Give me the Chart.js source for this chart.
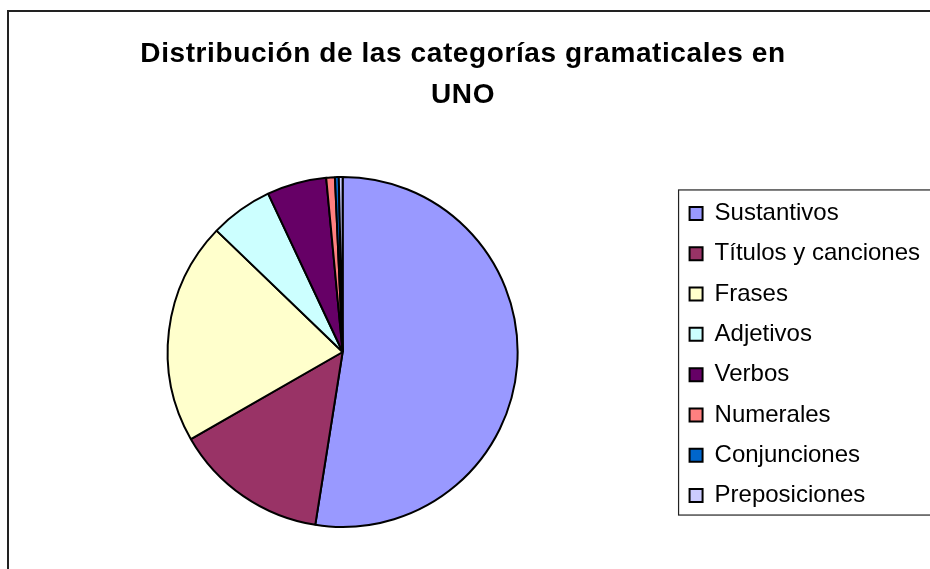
<!DOCTYPE html>
<html>
<head>
<meta charset="utf-8">
<script src="https://cdn.jsdelivr.net/npm/chart.js@4/dist/chart.umd.min.js"></script>
<style>
  html, body { margin: 0; padding: 0; background: #fff; }
  canvas { display: block; }
</style>
</head>
<body>
<canvas id="pieChart" width="930" height="569"></canvas>
<script>
// data (percent of words)
const categorias = ['Sustantivos', 'Títulos y canciones', 'Frases', 'Adjetivos', 'Verbos', 'Numerales', 'Conjunciones', 'Preposiciones'];
const porcentajes = [52.5, 14.2, 20.5, 5.8, 5.5, 0.8, 0.35, 0.35];
const colores = ['#9999FF', '#993366', '#FFFFCC', '#CCFFFF', '#660066', '#FF8080', '#0066CC', '#CCCCFF'];
const titulo = ['Distribución de las categorías gramaticales en', 'UNO'];

const FONT = '"Liberation Sans", Arial, sans-serif';

// white background, the outer chart frame and the box round the legend
const frame = {
  id: 'frame',
  afterInit(chart) {
    // the title in the picture is a bit spaced out and sits a little left of centre
    const title = chart.titleBlock;
    if (title && !title._spaced) {
      const draw = title.draw.bind(title);
      title.draw = (area) => {
        chart.ctx.save();
        chart.ctx.letterSpacing = '0.6px';
        chart.ctx.translate(-8, 0);
        draw(area);
        chart.ctx.restore();
      };
      title._spaced = true;
    }
  },
  beforeDraw(chart) {
    const ctx = chart.ctx;
    ctx.save();
    ctx.fillStyle = '#fff';
    ctx.fillRect(0, 0, chart.width, chart.height);
    ctx.strokeStyle = '#222';
    ctx.lineWidth = 2;
    ctx.strokeRect(8, 11, chart.width + 20, chart.height + 20);
    ctx.restore();
  },
  afterDraw(chart) {
    const boxes = chart.legend.legendHitBoxes;
    if (!boxes || !boxes.length) return;
    const first = boxes[0];
    const last = boxes[boxes.length - 1];
    const ctx = chart.ctx;
    ctx.save();
    ctx.strokeStyle = '#222';
    ctx.lineWidth = 1.2;
    const x = first.left - 11;
    const y = first.top - 11.5;
    ctx.strokeRect(x, y, chart.width, last.top + last.height + 7.5 - y);
    ctx.restore();
  }
};

new Chart(document.getElementById('pieChart'), {
  type: 'pie',
  data: {
    labels: categorias,
    datasets: [{
      data: porcentajes,
      backgroundColor: colores,
      borderColor: '#000',
      borderWidth: 2,
      hoverOffset: 0
    }]
  },
  options: {
    responsive: false,
    animation: false,
    devicePixelRatio: 1,
    layout: { padding: { left: 12, right: 0, top: 0, bottom: 41 } },
    plugins: {
      title: {
        display: true,
        text: titulo,
        color: '#000',
        font: { family: FONT, size: 28, weight: 'bold', lineHeight: 41 / 28 },
        padding: { top: 34, bottom: 60 }
      },
      legend: {
        position: 'right',
        fullSize: false,
        // empty title only nudges the items down a little
        title: { display: true, text: '', font: { size: 1, lineHeight: 1 }, padding: 2 },
        labels: {
          color: '#000',
          font: { family: FONT, size: 24 },
          boxWidth: 13,
          boxHeight: 13,
          padding: 16.3
        }
      },
      tooltip: { enabled: false }
    }
  },
  plugins: [frame]
});
</script>
</body>
</html>
